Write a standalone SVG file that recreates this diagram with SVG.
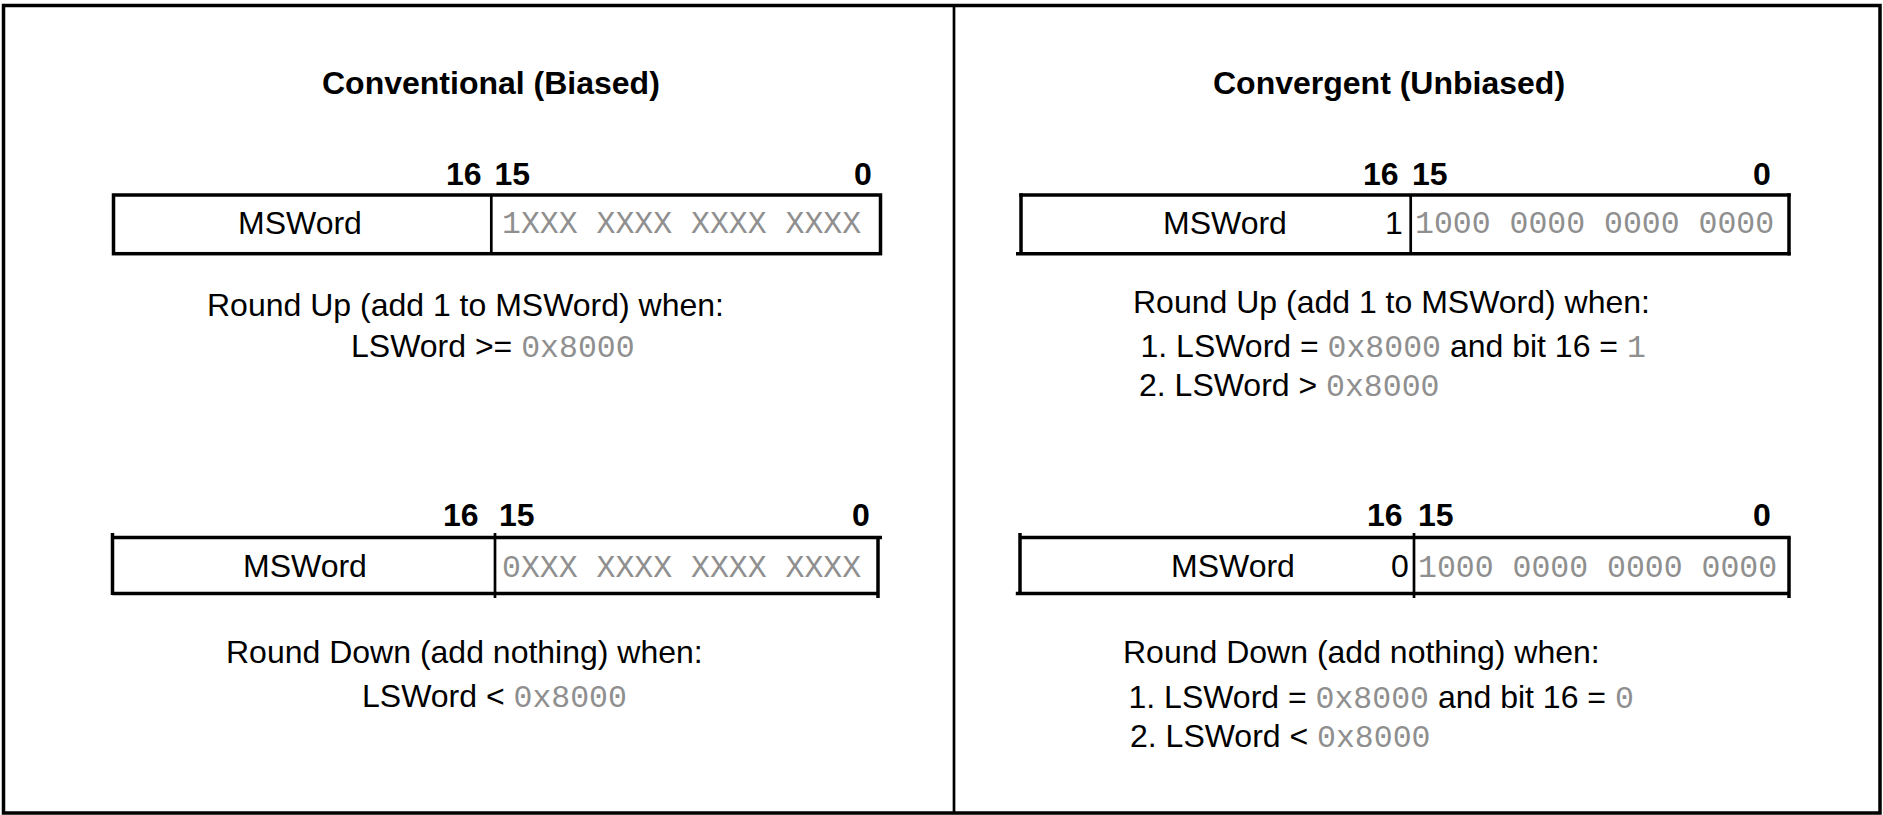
<svg xmlns="http://www.w3.org/2000/svg" width="1883" height="815" viewBox="0 0 1883 815">
  <style>
    .title { font-family: "Liberation Sans", Arial, sans-serif; font-size: 32px; font-weight: bold; fill: #000; }
    .bit { font-family: "Liberation Sans", Arial, sans-serif; font-size: 32px; font-weight: bold; fill: #000; }
    .txt { font-family: "Liberation Sans", Arial, sans-serif; font-size: 32px; fill: #000; }
    .mono { font-family: "Liberation Mono", "Courier New", monospace; font-size: 31.5px; fill: #8f8f8f; }
    .frame { fill: none; stroke: #000; stroke-width: 3.5; }
    .edge { stroke: #000; stroke-width: 3.5; fill: none; }
    .split { stroke: #000; stroke-width: 2.7; fill: none; }
  </style>
  <rect width="1883" height="815" fill="#fff"/>

  <!-- outer frame and panel divider -->
  <g id="frame">
    <rect class="frame" x="3.5" y="5.5" width="1876.5" height="807.5"/>
    <line class="split" x1="954" y1="5" x2="954" y2="813"/>
  </g>

  <!-- left panel: conventional rounding -->
  <g id="conventional">
    <text class="title" x="322" y="94">Conventional (Biased)</text>

    <g id="conv-up-word">
      <text class="bit" x="446" y="185">16</text>
      <text class="bit" x="494.5" y="185">15</text>
      <text class="bit" x="854" y="185">0</text>
      <rect class="edge" x="113.5" y="195" width="767" height="58.7"/>
      <line class="split" x1="491.3" y1="195" x2="491.3" y2="253.7"/>
      <text class="txt" x="238" y="234">MSWord</text>
      <text class="mono" x="502" y="233">1XXX XXXX XXXX XXXX</text>
    </g>
    <g id="conv-up-rule">
      <text class="txt" x="207" y="316">Round Up (add 1 to MSWord) when:</text>
      <text class="txt" x="351" y="357">LSWord &gt;= <tspan class="mono">0x8000</tspan></text>
    </g>

    <g id="conv-down-word">
      <text class="bit" x="443" y="526">16</text>
      <text class="bit" x="499" y="526">15</text>
      <text class="bit" x="852" y="526">0</text>
      <line class="edge" x1="112.5" y1="537.5" x2="882" y2="537.5"/>
      <line class="edge" x1="112.5" y1="593.5" x2="878" y2="593.5"/>
      <line class="edge" x1="112.5" y1="533" x2="112.5" y2="595"/>
      <line class="edge" x1="878" y1="537.5" x2="878" y2="598"/>
      <line class="split" x1="495" y1="533" x2="495" y2="598"/>
      <text class="txt" x="243" y="577">MSWord</text>
      <text class="mono" x="502" y="577">0XXX XXXX XXXX XXXX</text>
    </g>
    <g id="conv-down-rule">
      <text class="txt" x="226" y="663">Round Down (add nothing) when:</text>
      <text class="txt" x="362" y="707">LSWord &lt; <tspan class="mono">0x8000</tspan></text>
    </g>
  </g>

  <!-- right panel: convergent rounding -->
  <g id="convergent">
    <text class="title" x="1213" y="94">Convergent (Unbiased)</text>

    <g id="conv-ub-up-word">
      <text class="bit" x="1363" y="185">16</text>
      <text class="bit" x="1412" y="185">15</text>
      <text class="bit" x="1753" y="185">0</text>
      <line class="edge" x1="1016" y1="253.7" x2="1790.7" y2="253.7"/>
      <line class="edge" x1="1019.3" y1="195" x2="1790.7" y2="195"/>
      <line class="edge" x1="1021" y1="193.3" x2="1021" y2="253.7"/>
      <line class="edge" x1="1789" y1="193.3" x2="1789" y2="255.4"/>
      <line class="split" x1="1410.7" y1="195" x2="1410.7" y2="253.7"/>
      <text class="txt" x="1163" y="234">MSWord</text>
      <text class="txt" x="1385" y="234">1</text>
      <text class="mono" x="1415" y="233">1000 0000 0000 0000</text>
    </g>
    <g id="conv-ub-up-rule">
      <text class="txt" x="1133" y="313">Round Up (add 1 to MSWord) when:</text>
      <text class="txt" x="1140.5" y="357">1. LSWord = <tspan class="mono">0x8000</tspan> and bit 16 = <tspan class="mono">1</tspan></text>
      <text class="txt" x="1139" y="396">2. LSWord &gt; <tspan class="mono">0x8000</tspan></text>
    </g>

    <g id="conv-ub-down-word">
      <text class="bit" x="1367" y="526">16</text>
      <text class="bit" x="1418" y="526">15</text>
      <text class="bit" x="1753" y="526">0</text>
      <line class="edge" x1="1020" y1="537.5" x2="1790.7" y2="537.5"/>
      <line class="edge" x1="1015.8" y1="593.5" x2="1789" y2="593.5"/>
      <line class="edge" x1="1020" y1="533" x2="1020" y2="595"/>
      <line class="edge" x1="1789" y1="537.5" x2="1789" y2="598"/>
      <line class="split" x1="1414" y1="533" x2="1414" y2="598"/>
      <text class="txt" x="1171" y="577">MSWord</text>
      <text class="txt" x="1391" y="577">0</text>
      <text class="mono" x="1418" y="577">1000 0000 0000 0000</text>
    </g>
    <g id="conv-ub-down-rule">
      <text class="txt" x="1123" y="663">Round Down (add nothing) when:</text>
      <text class="txt" x="1128.5" y="708">1. LSWord = <tspan class="mono">0x8000</tspan> and bit 16 = <tspan class="mono">0</tspan></text>
      <text class="txt" x="1130" y="747">2. LSWord &lt; <tspan class="mono">0x8000</tspan></text>
    </g>
  </g>
</svg>
